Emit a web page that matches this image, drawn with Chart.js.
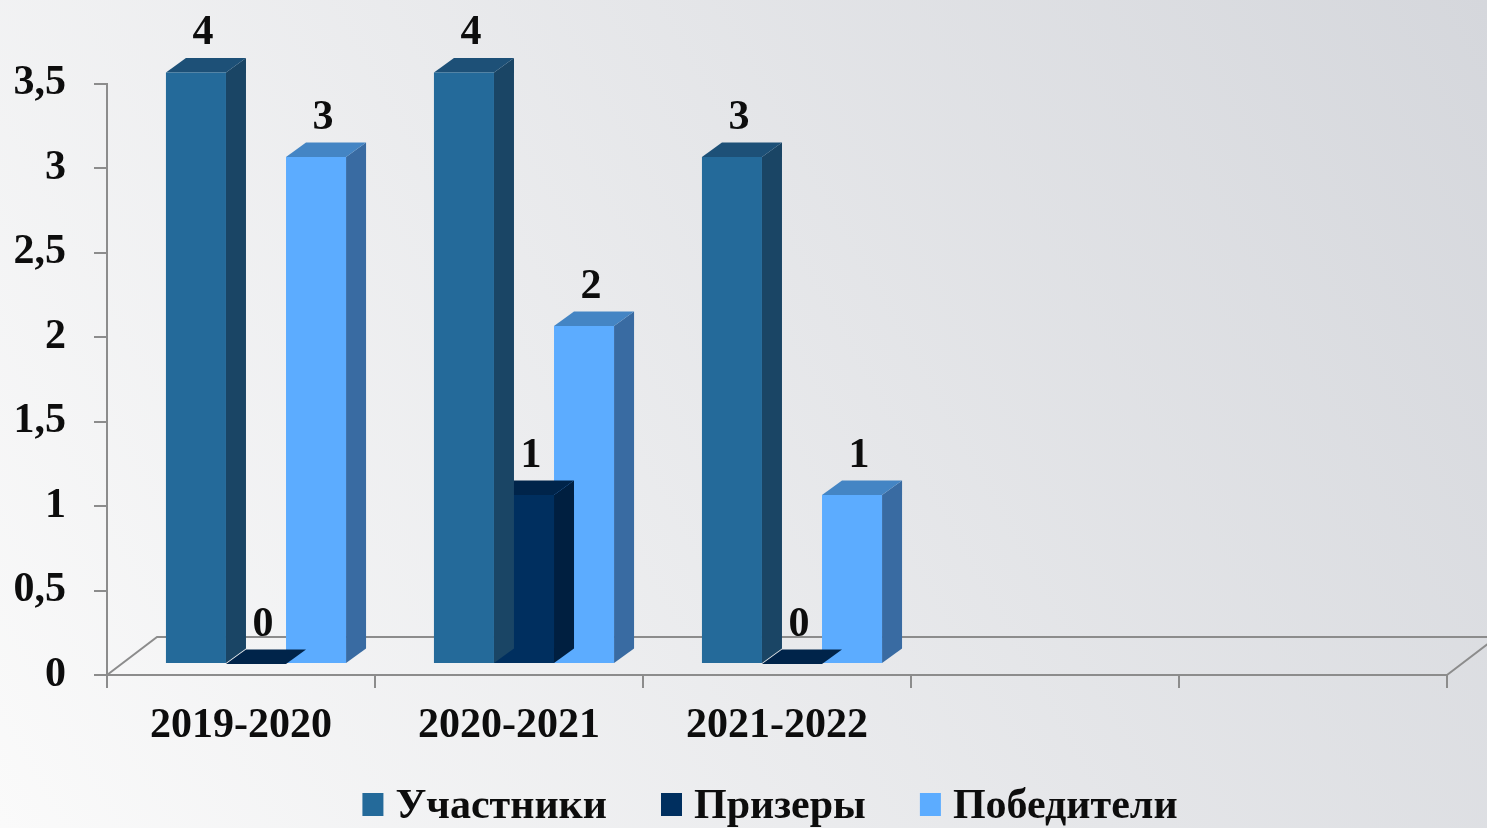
<!DOCTYPE html>
<html lang="ru">
<head>
<meta charset="utf-8">
<title>Участники, призеры и победители</title>
<script src="https://cdn.jsdelivr.net/npm/chart.js@4.4.1/dist/chart.umd.min.js"></script>
<style>
	html, body { margin: 0; padding: 0; overflow: hidden; background: #e9e9ec; }
	canvas { display: block; }
</style>
</head>
<body>
<canvas id="olympChart" width="1487" height="828"></canvas>
<script>
(function () {
	'use strict';

	// data
	var years = ['2019-2020', '2020-2021', '2021-2022', '', ''];
	var participants = [4, 4, 3];
	var prizeWinners = [0, 1, 0];
	var winners = [3, 2, 1];
	var yTicks = [0, 0.5, 1, 1.5, 2, 2.5, 3, 3.5];

	var serif = '"Liberation Serif", "Times New Roman", serif';
	var axisGray = '#8c8c8c';

	// 3d look: bars stand a bit inside the floor, floor has its own depth
	var BAR_SHIFT_X = 15, BAR_SHIFT_Y = -11;
	var DEPTH_X = 20, DEPTH_Y = -14.5;
	var FLOOR_X = 50, FLOOR_Y = -38;

	function fontStr(size) {
		return 'bold ' + size + 'px ' + serif;
	}

	var threeD = {
		id: 'threeD',
		beforeDraw: function (chart) {
			var ctx = chart.ctx, w = chart.width, h = chart.height;
			var g = ctx.createLinearGradient(0, h, w, 0);
			g.addColorStop(0, '#fafafa');
			g.addColorStop(1, '#d5d7dc');
			ctx.save();
			ctx.fillStyle = g;
			ctx.fillRect(0, 0, w, h);
			ctx.restore();
		},
		beforeDatasetsDraw: function (chart) {
			var ctx = chart.ctx, a = chart.chartArea;
			// floor outline
			ctx.save();
			ctx.strokeStyle = axisGray;
			ctx.lineWidth = 2;
			ctx.beginPath();
			ctx.moveTo(a.left, a.bottom);
			ctx.lineTo(a.left + FLOOR_X, a.bottom + FLOOR_Y);
			ctx.lineTo(a.right + FLOOR_X, a.bottom + FLOOR_Y);
			ctx.moveTo(a.right, a.bottom);
			ctx.lineTo(a.right + FLOOR_X, a.bottom + FLOOR_Y);
			ctx.stroke();
			ctx.restore();

			ctx.save();
			ctx.translate(BAR_SHIFT_X, BAR_SHIFT_Y);
		},
		beforeDatasetDraw: function (chart, args) {
			var ctx = chart.ctx, a = chart.chartArea;
			var ds = chart.data.datasets[args.index];
			args.meta.data.forEach(function (el) {
				var p = el.getProps(['x', 'y', 'base', 'width'], true);
				var top = Math.max(p.y, a.top);
				var l = p.x - p.width / 2, r = p.x + p.width / 2;

				ctx.fillStyle = ds.sideColor;
				ctx.beginPath();
				ctx.moveTo(r, p.base);
				ctx.lineTo(r + DEPTH_X, p.base + DEPTH_Y);
				ctx.lineTo(r + DEPTH_X, top + DEPTH_Y);
				ctx.lineTo(r, top);
				ctx.closePath();
				ctx.fill();

				ctx.fillStyle = ds.topColor;
				ctx.beginPath();
				ctx.moveTo(l, top);
				ctx.lineTo(l + DEPTH_X, top + DEPTH_Y);
				ctx.lineTo(r + DEPTH_X, top + DEPTH_Y);
				ctx.lineTo(r, top);
				ctx.closePath();
				ctx.fill();
			});
		},
		afterDatasetsDraw: function (chart) {
			var ctx = chart.ctx, a = chart.chartArea;

			// value labels
			ctx.font = fontStr(42);
			ctx.fillStyle = '#0d0d0d';
			ctx.textAlign = 'center';
			ctx.textBaseline = 'alphabetic';
			chart.data.datasets.forEach(function (ds, i) {
				chart.getDatasetMeta(i).data.forEach(function (el, j) {
					var p = el.getProps(['x', 'y'], true);
					var top = Math.max(p.y, a.top);
					ctx.fillText(String(ds.data[j]), p.x + 7, top + DEPTH_Y - 14);
				});
			});
			ctx.restore();

			// legend under the axis labels
			ctx.save();
			ctx.font = fontStr(42);
			ctx.textBaseline = 'middle';
			ctx.textAlign = 'left';
			var box = 21, gapText = 12, gapItem = 54;
			var widths = chart.data.datasets.map(function (ds) {
				return box + gapText + ctx.measureText(ds.label).width;
			});
			var total = widths.reduce(function (s, v) { return s + v; }, 0) + gapItem * (widths.length - 1);
			var x = 770 - total / 2, y = 805;
			chart.data.datasets.forEach(function (ds, i) {
				ctx.fillStyle = ds.backgroundColor;
				ctx.fillRect(x, y - 12, box, 23);
				ctx.fillStyle = '#0d0d0d';
				ctx.fillText(ds.label, x + box + gapText, y + 2);
				x += widths[i] + gapItem;
			});
			ctx.restore();
		}
	};

	var olympChart = new Chart(document.getElementById('olympChart'), {
		type: 'bar',
		plugins: [threeD],
		data: {
			labels: years,
			datasets: [{
					label: 'Участники',
					data: participants,
					backgroundColor: '#246a9a',
					sideColor: '#1a4565',
					topColor: '#1d5077'
				},
				{
					label: 'Призеры',
					data: prizeWinners,
					backgroundColor: '#002f5f',
					sideColor: '#001f40',
					topColor: '#00244a'
				},
				{
					label: 'Победители',
					data: winners,
					backgroundColor: '#5cacff',
					sideColor: '#396ba2',
					topColor: '#4485c4'
				}
			]
		},
		options: {
			responsive: false,
			animation: false,
			layout: {
				padding: { top: 83.5, right: 40, left: 0, bottom: 0 }
			},
			datasets: {
				bar: {
					barPercentage: 1,
					categoryPercentage: 0.672,
					borderWidth: 0
				}
			},
			plugins: {
				legend: { display: false },
				tooltip: { enabled: false }
			},
			scales: {
				x: {
					afterFit: function (scale) { scale.height = 153; },
					grid: {
						drawOnChartArea: false,
						tickLength: 13,
						color: axisGray,
						lineWidth: 2
					},
					border: { display: true, color: axisGray, width: 2 },
					ticks: {
						padding: 13,
						color: '#0d0d0d',
						maxRotation: 0,
						autoSkip: false,
						font: { family: serif, size: 42, weight: 'bold', lineHeight: 1.2 }
					}
				},
				y: {
					min: 0,
					max: 3.5,
					afterFit: function (scale) { scale.width = 107; },
					afterBuildTicks: function (scale) {
						scale.ticks = yTicks.map(function (v) { return { value: v }; });
					},
					grid: {
						drawOnChartArea: false,
						tickLength: 13,
						color: axisGray,
						lineWidth: 2
					},
					border: { display: true, color: axisGray, width: 2 },
					ticks: {
						padding: 28,
						color: '#0d0d0d',
						font: { family: serif, size: 42, weight: 'bold' },
						callback: function (v) { return String(v).replace('.', ','); }
					}
				}
			}
		}
	});
})();
</script>
</body>
</html>
